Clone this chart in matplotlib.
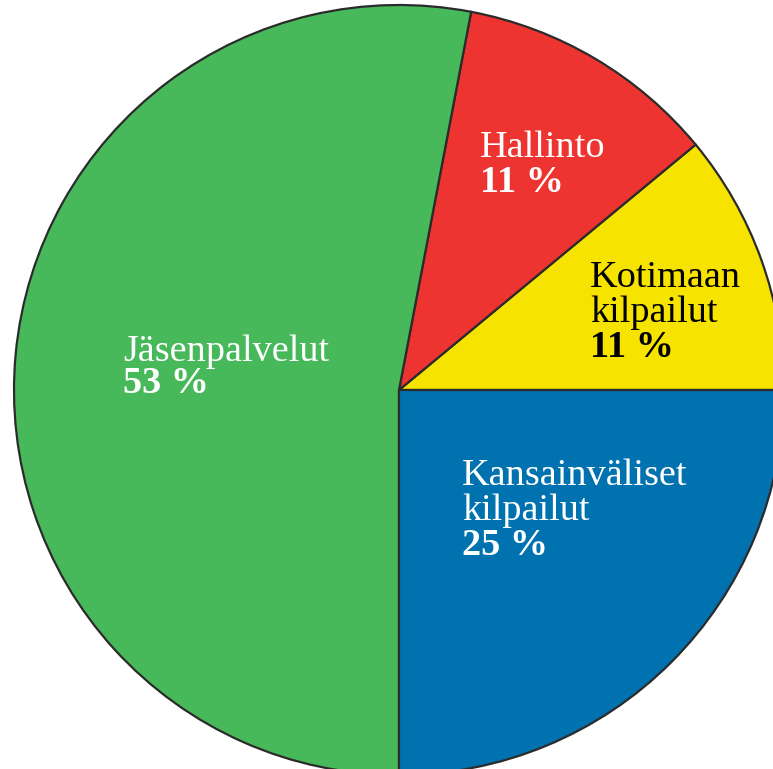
import matplotlib.pyplot as plt

plt.rcParams['font.family'] = ['Liberation Serif', 'DejaVu Serif']

# slices, counter-clockwise from 3 o'clock
names = ['Kotimaan\nkilpailut', 'Hallinto', 'Jäsenpalvelut', 'Kansainväliset\nkilpailut']
shares = [11, 11, 53, 25]
colors = ['#F7E300', '#EE3430', '#48B95A', '#0072B0']
text_colors = ['black', 'white', 'white', 'white']

# label anchor (pixel x, baseline of first line) in the 773x769 picture
label_px = [(590, 287), (480, 157), (123, 361), (462, 485)]

cx, cy, r = 399, 390, 385   # pie centre and radius in pixels

fig = plt.figure(figsize=(7.73, 7.69), dpi=100)
ax = fig.add_axes([0, 0, 1, 1])
ax.pie(shares, colors=colors, startangle=0, counterclock=True, radius=1,
       wedgeprops=dict(edgecolor='#2b2b2b', linewidth=1.6))
ax.set_xlim(-cx / r, (773 - cx) / r)
ax.set_ylim(-(769 - cy) / r, cy / r)
ax.set_aspect('auto')
ax.axis('off')

fs = 27.5
line_h = 35 / r
for name, share, col, (px, py) in zip(names, shares, text_colors, label_px):
    x = (px - cx) / r
    y = (cy - py) / r
    lines = name.split('\n')
    for i, ln in enumerate(lines):
        ax.text(x, y - i * line_h, ln, color=col, fontsize=fs, va='baseline', ha='left')
    step = line_h if name != 'Jäsenpalvelut' else 32 / r
    ax.text(x, y - (len(lines) - 1) * line_h - step, f'{share} %', color=col,
            fontsize=fs, fontweight='bold', va='baseline', ha='left')

fig.savefig('out.png', dpi=100)
